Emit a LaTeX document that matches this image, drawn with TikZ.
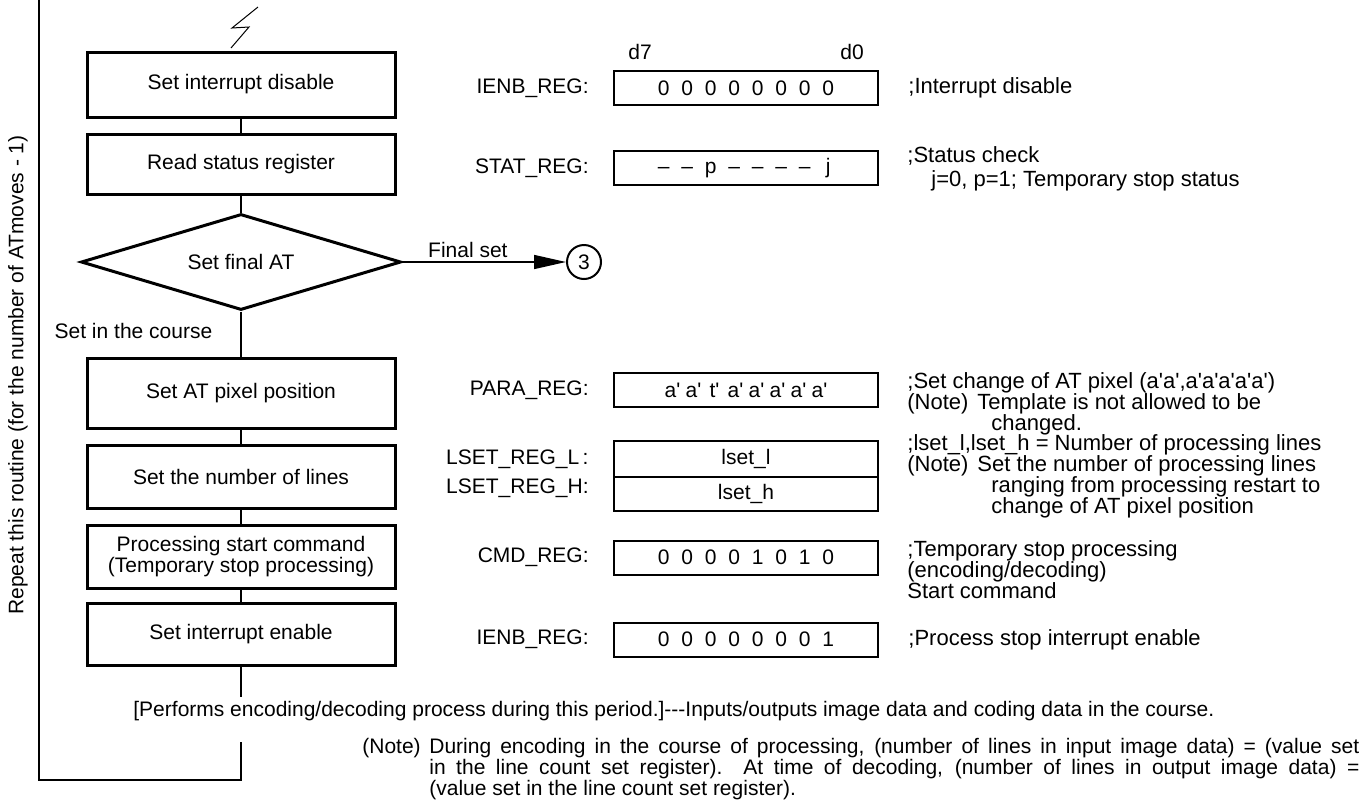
\documentclass[tikz,border=0pt]{standalone}
\usepackage{fontspec}
\setmainfont{Liberation Sans}
\usetikzlibrary{shapes.geometric, arrows.meta, positioning}

\newcommand{\diagfont}{\fontsize{10.5pt}{10.5pt}\selectfont}
\newcommand{\remfont}{\fontsize{11pt}{10.5pt}\selectfont}
\newcommand{\tq}{\textquotesingle}
\newcommand{\notehead}[1][33.5pt]{\makebox[#1][l]{(Note)}}
\newcommand{\bits}[2][11.75pt]{\foreach \bitval in {#2}{\makebox[#1]{\bitval}}}

\tikzset{
  stepbox/.style={draw, line width=1.5pt, minimum width=154pt, align=center, inner sep=2pt},
  decide/.style={draw, diamond, line width=1.5pt, aspect=3.3, minimum width=160pt, minimum height=48pt, inner sep=1pt},
  regbox/.style={draw, line width=1pt, minimum width=132pt, minimum height=17pt, inner sep=0pt},
  reglabel/.style={inner sep=0pt},
  remark/.style={align=left, inner sep=0pt, font=\remfont},
  flow/.style={line width=0.75pt},
}

\begin{document}
\begin{tikzpicture}[x=0.5pt, y=-0.5pt, font=\diagfont]
  \useasboundingbox (0,0) rectangle (1367,804);

  % flow chart
  \node[stepbox, minimum height=32.5pt] (b1) at (241,84.5) {Set interrupt disable};
  \node[stepbox, minimum height=30pt] (b2) at (241,164) {Read status register};
  \node[decide] (dia) at (241,262) {Set final AT};
  \node[stepbox, minimum height=35pt] (b3) at (241,393) {Set AT pixel position};
  \node[stepbox, minimum height=31.5pt] (b4) at (241,476.5) {Set the number of lines};
  \node[stepbox, minimum height=31.5pt] (b5) at (241,556.5) {Processing start command\\(Temporary stop processing)};
  \node[stepbox, minimum height=31pt] (b6) at (241,634) {Set interrupt enable};
  \node[draw, circle, line width=1pt, minimum size=17pt, inner sep=0pt] (c3) at (584,262) {3};

  \coordinate (gapA) at (241,697);
  \coordinate (gapB) at (241,742);
  \coordinate (loopC) at (39,780);
  \coordinate (loopT) at (39,0);

  \draw[flow] (b1) -- (b2);
  \draw[flow] (b2) -- (dia);
  \draw[flow] (dia) -- (b3) node[pos=0.43, left=14pt, inner sep=0pt] {Set in the course};
  \draw[flow] (b3) -- (b4);
  \draw[flow] (b4) -- (b5);
  \draw[flow] (b5) -- (b6);
  \draw[flow] (b6) -- (gapA);
  \draw[flow] (gapB) |- (loopC) -- (loopT);
  \draw[flow, -{Triangle[length=16pt, width=7pt]}] (dia.east) -- (c3)
    node[pos=0.4, above=2pt, inner sep=0pt] {Final set};
  \draw[line width=0.5pt] (258,7) -- (232,28) -- (249,27) -- (231,48);

  \node[rotate=90] (rep) at (18,375) {Repeat this routine (for the number of ATmoves - 1)};

  % registers
  \node (d7) at (640,52) {d7};
  \node (d0) at (852,52) {d0};
  \node[regbox] (ienb) at (746,88) {\bits{0,0,0,0,0,0,0,0}};
  \node[regbox] (stat) at (746,168) {\bits{--,--,p,--,--,--,--,j}};
  \node[regbox] (para) at (746,390) {\bits[10.5pt]{a\tq,a\tq,t\tq,a\tq,a\tq,a\tq,a\tq,a\tq}};
  \node[regbox, minimum height=18pt] (lsetl) at (746,459) {lset\_l};
  \node[regbox] (lseth) at (746,494) {lset\_h};
  \node[regbox] (cmd) at (746,557.5) {\bits{0,0,0,0,1,0,1,0}};
  \node[regbox] (ienbb) at (746,639.5) {\bits{0,0,0,0,0,0,0,1}};

  \node[reglabel, left=12pt of ienb] {IENB\_REG:};
  \node[reglabel, left=12pt of stat] {STAT\_REG:};
  \node[reglabel, left=12pt of para] {PARA\_REG:};
  \node[reglabel, left=12pt of lsetl] {LSET\_REG\_L\,:};
  \node[reglabel, left=12pt of lseth, yshift=3pt] {LSET\_REG\_H:};
  \node[reglabel, left=12pt of cmd] {CMD\_REG:};
  \node[reglabel, left=12pt of ienbb] {IENB\_REG:};

  % remarks
  \node[remark, right=14.5pt of ienb] (r1) {;Interrupt disable};
  \node[remark, anchor=west] (r2) at (907,156) {;Status check};
  \node[remark, anchor=west] (r2b) at (931,181) {j=0, p=1; Temporary stop status};
  \node[remark, anchor=north west] (r3) at (907,372)
    {;Set change of AT pixel (a\tq a\tq,a\tq a\tq a\tq a\tq a\tq)\\
     \notehead[35pt]Template is not allowed to be\\\hspace*{42pt}changed.};
  \node[remark, anchor=north west] (r4) at (907,434)
    {;lset\_l,lset\_h = Number of processing lines\\
     \notehead[35pt]Set the number of processing lines\\
     \hspace*{42pt}ranging from processing restart to\\
     \hspace*{42pt}change of AT pixel position};
  \node[remark, anchor=north west] (r5) at (907,540)
    {;Temporary stop processing\\(encoding/decoding)\\Start command};
  \node[remark, right=14.5pt of ienbb] (r6) {;Process stop interrupt enable};

  % bottom notes
  \node[remark, anchor=west, font=\diagfont] (perf) at (133,711)
    {[Performs encoding/decoding process during this period.]-{}-{}-Inputs/outputs image data and coding data in the course.};
  \node[remark, anchor=west, font=\diagfont] (note) at (362,769)
    {\notehead\makebox[465pt][s]{During encoding in the course of processing, (number of lines in input image data) = (value set}\\
     \hspace*{33.5pt}\makebox[465pt][s]{in the line count set register).\ \ At time of decoding, (number of lines in output image data) =}\\
     \hspace*{33.5pt}(value set in the line count set register).};
\end{tikzpicture}
\end{document}
